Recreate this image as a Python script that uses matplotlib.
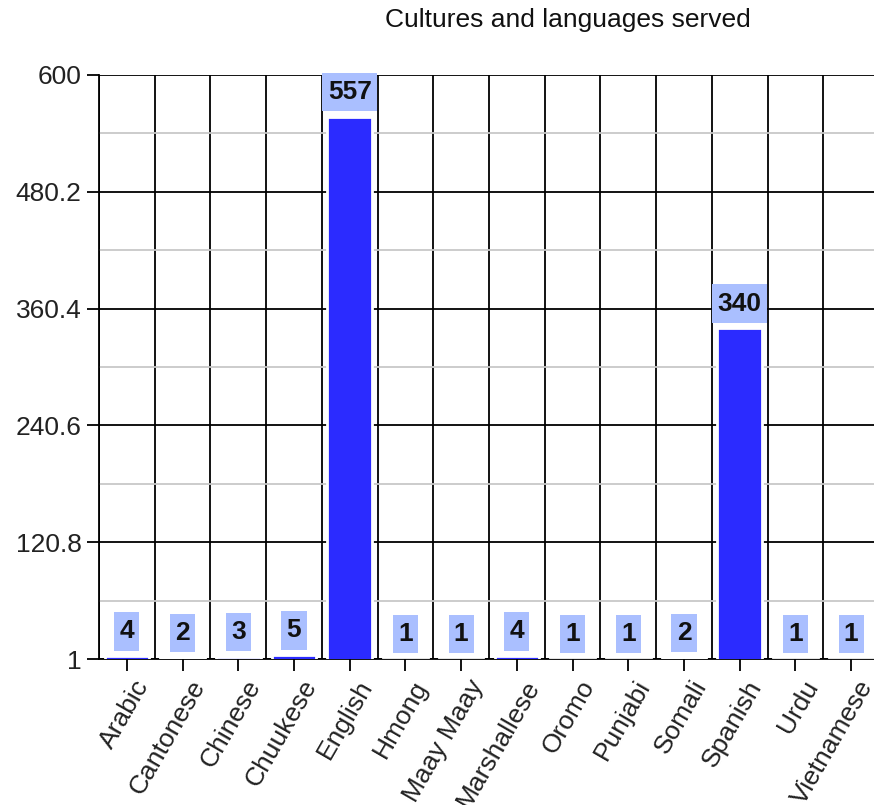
import numpy as np
import matplotlib
matplotlib.use("Agg")
import matplotlib.pyplot as plt
import matplotlib.transforms as mtransforms
from matplotlib.path import Path

plt.rcParams["font.family"] = ["Liberation Sans", "DejaVu Sans"]

languages = ["Arabic", "Cantonese", "Chinese", "Chuukese", "English", "Hmong",
             "Maay Maay", "Marshallese", "Oromo", "Punjabi", "Somali", "Spanish",
             "Urdu", "Vietnamese"]
counts = [4, 2, 3, 5, 557, 1, 1, 4, 1, 1, 2, 340, 1, 1]
y_ticks = [1, 120.8, 240.6, 360.4, 480.2, 600]
y_tick_labels = ["1", "120.8", "240.6", "360.4", "480.2", "600"]
title = "Cultures and languages served"

PAD_X, PAD_Y = 0.2, 0.28


def label_box(x0, y0, width, height, mutation_size):
    # rectangle with more padding above/below than left/right
    px, py = PAD_X * mutation_size, PAD_Y * mutation_size
    x0, x1 = x0 - px, x0 + width + px
    y0, y1 = y0 - py, y0 + height + py
    return Path([(x0, y0), (x1, y0), (x1, y1), (x0, y1), (x0, y0)], closed=True)


W, H = 874, 805
fig = plt.figure(figsize=(W / 100, H / 100), dpi=100)
# axes runs past the right edge, like the reference
ax = fig.add_axes([99 / W, (H - 659) / H, 780 / W, (659 - 75) / H])

x = np.arange(len(languages))
ax.bar(x, counts, width=0.8, color="#2b2bff", edgecolor="white",
       linewidth=2, zorder=3)

for xi, v in zip(x, counts):
    ax.annotate(str(v), xy=(xi, v), xytext=(0, 4 + PAD_Y * 19),
                textcoords="offset points",
                ha="center", va="bottom", fontsize=19, fontweight="bold",
                color="#111111", zorder=5,
                bbox=dict(boxstyle=label_box, fc="#aabfff", ec="none"))

ax.set_xlim(-0.5, len(languages) - 0.5)
ax.set_ylim(1, 600)

# y: black major grid, grey minor grid
ax.set_yticks(y_ticks)
ax.set_yticklabels(y_tick_labels)
mids = [(a + b) / 2 for a, b in zip(y_ticks[:-1], y_ticks[1:])]
ax.set_yticks(mids, minor=True)
ax.grid(which="major", axis="y", color="black", linewidth=1.3, zorder=1)
ax.grid(which="minor", axis="y", color="#c8c8c8", linewidth=1.3, zorder=1)

# x: vertical separators between categories
ax.set_xticks(x)
ax.set_xticklabels(languages, rotation=60, ha="right", va="center",
                   rotation_mode="anchor")
ax.set_xticks(np.arange(len(languages) + 1) - 0.5, minor=True)
ax.grid(which="minor", axis="x", color="black", linewidth=1.3, zorder=1)
ax.set_axisbelow(True)

ax.tick_params(which="minor", length=0)
ax.tick_params(which="major", length=8.5, width=1.3, color="black",
               labelsize=19, labelcolor="#222222")
ax.tick_params(axis="y", pad=4)
ax.tick_params(axis="x", pad=2)

offset = mtransforms.ScaledTranslation(12 / 72, -6 / 72, fig.dpi_scale_trans)
for lab in ax.get_xticklabels():
    lab.set_transform(lab.get_transform() + offset)

for s in ["top", "right"]:
    ax.spines[s].set_visible(False)
for s in ["left", "bottom"]:
    ax.spines[s].set_linewidth(1.3)

fig.text(568 / W, 1 - 20 / H, title, ha="center", va="center",
         fontsize=19, color="#111111")

fig.savefig("out.png", dpi=100)
